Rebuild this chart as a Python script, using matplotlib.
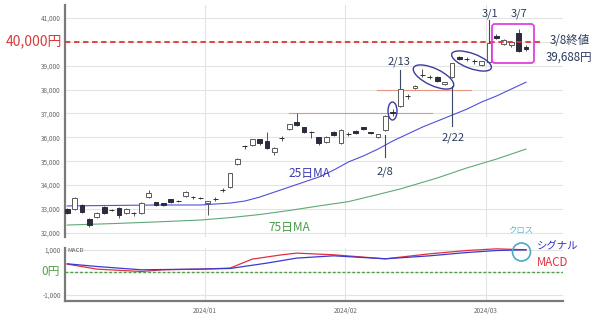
import matplotlib
matplotlib.use("Agg")
import matplotlib.pyplot as plt
from matplotlib.patches import Rectangle, Ellipse, FancyBboxPatch, Circle
from matplotlib.transforms import IdentityTransform

plt.rcParams['font.family'] = ['Noto Sans CJK JP', 'DejaVu Sans']

# ---------------- data ----------------
dates = ["12/05", "12/06", "12/07", "12/08", "12/11", "12/12", "12/13", "12/14", "12/15", "12/18",
         "12/19", "12/20", "12/21", "12/22", "12/25", "12/26", "12/27", "12/28", "12/29",
         "01/04", "01/05", "01/09", "01/10", "01/11", "01/12", "01/15", "01/16", "01/17", "01/18",
         "01/19", "01/22", "01/23", "01/24", "01/25", "01/26", "01/29", "01/30", "01/31",
         "02/01", "02/02", "02/05", "02/06", "02/07", "02/08", "02/09", "02/13", "02/14", "02/15",
         "02/16", "02/19", "02/20", "02/21", "02/22", "02/26", "02/27", "02/28", "02/29",
         "03/01", "03/04", "03/05", "03/06", "03/07", "03/08"]
opens = [33000, 33000, 33170, 32580, 32670, 33080, 32960, 33040, 32830, 32840,
         32830, 33500, 33290, 33250, 33420, 33350, 33540, 33510, 33470,
         33250, 33420, 33800, 33920, 34880, 35640, 35680, 35930, 35850, 35380,
         35980, 36350, 36640, 36430, 36230, 36010, 35800, 36220, 35760,
         36140, 36260, 36430, 36220, 36010, 36310, 37050, 37310, 37730, 38060,
         38610, 38530, 38520, 38230, 38520, 39360, 39280, 39200, 39030,
         39150, 40240, 39900, 39860, 40360, 39800]
highs = [33050, 33500, 33200, 32620, 32860, 33120, 33000, 33080, 33050, 32860,
         33280, 33790, 33310, 33270, 33440, 33380, 33740, 33560, 33510,
         33350, 33500, 33880, 34520, 35120, 35700, 35950, 35950, 36220, 35580,
         36060, 36580, 37020, 36450, 36280, 36030, 36040, 36250, 36330,
         36220, 36290, 36450, 36240, 36160, 36920, 37200, 38040, 37800, 38180,
         38860, 38600, 38550, 38330, 39130, 39390, 39370, 39260, 39210,
         39990, 40310, 40110, 40020, 40530, 39860]
lows = [32780, 32960, 32830, 32250, 32620, 32800, 32900, 32620, 32800, 32700,
        32800, 33470, 33130, 33140, 33270, 33300, 33520, 33440, 33420,
        32750, 33350, 33720, 33900, 34850, 35500, 35650, 35700, 35520, 35280,
        35850, 36300, 36480, 36180, 35970, 35700, 35780, 36060, 35740,
        36060, 36150, 36320, 36150, 35990, 36280, 36900, 37280, 37600, 38040,
        38520, 38450, 38330, 38200, 38500, 39250, 39200, 39080, 39000,
        39120, 40100, 39880, 39800, 39580, 39600]
closes = [32830, 33460, 32870, 32330, 32830, 32830, 32940, 32750, 33000, 32820,
          33250, 33670, 33170, 33170, 33290, 33340, 33710, 33500, 33460,
          33330, 33410, 33790, 34500, 35090, 35630, 35930, 35760, 35550, 35550,
          35970, 36560, 36510, 36220, 36220, 35760, 36010, 36100, 36310,
          36130, 36180, 36350, 36180, 36140, 36890, 37040, 38020, 37720, 38150,
          38600, 38520, 38360, 38310, 39100, 39280, 39270, 39190, 39190,
          39950, 40150, 40070, 39990, 39610, 39690]

# moving averages read at selected trading-day positions
ma25_pos = [0, 6, 12, 18, 22, 24, 26, 28, 30, 32, 34, 36, 38, 40, 42, 44, 46, 48,
            50, 52, 54, 56, 58, 60, 62]
ma25_val = [33130, 33150, 33170, 33170, 33250, 33335, 33500, 33710, 33920, 34130,
            34340, 34630, 34970, 35220, 35510, 35850, 36140, 36430, 36680, 36930,
            37180, 37480, 37730, 38020, 38310]
ma75_pos = [0, 6, 12, 18, 22, 26, 30, 34, 38, 42, 45, 50, 54, 58, 62]
ma75_val = [32330, 32390, 32460, 32540, 32640, 32770, 32940, 33130, 33310, 33610,
            33840, 34300, 34720, 35090, 35510]

# MACD panel
macd_pos = [0, 4, 10, 13, 18, 22, 25, 29, 31, 36, 43, 49, 54, 58, 62]
macd_val = [373, 150, 45, 120, 150, 195, 595, 787, 862, 787, 609, 831, 978, 1053, 1009]
sig_pos = [0, 4, 10, 18, 22, 27, 31, 36, 43, 49, 54, 58, 62]
sig_val = [387, 267, 120, 150, 178, 418, 640, 742, 609, 742, 889, 978, 1009]

month_first_idx = [19, 38, 57]
month_labels = ["2024/01", "2024/02", "2024/03"]

# ---------------- figure ----------------
W, H = 600, 314
fig = plt.figure(figsize=(W / 100, H / 100), dpi=100)
fig.patch.set_facecolor("white")

def fx(x):
    return x / W

def fy(y):
    return 1 - y / H

ax = fig.add_axes([fx(65), fy(237), fx(563) - fx(65), fy(5) - fy(237)])
axm = fig.add_axes([fx(65), fy(301), fx(563) - fx(65), fy(248) - fy(301)])

xmin, xmax = -0.3, 67.0
ax.set_xlim(xmin, xmax)
axm.set_xlim(xmin, xmax)
ax.set_ylim(31830, 41540)
axm.set_ylim(-1270, 1090)

grid_c = "#e3e3e3"
spine_c = "#7a7a7a"
tick_c = "#666666"

for a in (ax, axm):
    for s in ("top", "right"):
        a.spines[s].set_visible(False)
    a.spines["left"].set_color(spine_c)
    a.spines["left"].set_linewidth(1.6)
    a.tick_params(length=0, labelsize=4.6, labelcolor=tick_c, pad=3)
    a.set_axisbelow(True)
ax.spines["bottom"].set_visible(False)
axm.spines["bottom"].set_color(spine_c)
axm.spines["bottom"].set_linewidth(1.6)

yt = [32000, 33000, 34000, 35000, 36000, 37000, 38000, 39000, 40000, 41000]
ax.set_yticks(yt)
ax.set_yticklabels([("" if v == 40000 else f"{v:,}") for v in yt])
ax.yaxis.grid(True, color=grid_c, lw=0.8)

tick_pos = [i - 0.4 for i in month_first_idx]
ax.set_xticks(tick_pos)
ax.set_xticklabels([])
ax.xaxis.grid(True, color=grid_c, lw=0.8)

axm.set_yticks([-1000, 0, 1000])
axm.set_yticklabels(["-1,000", "", "1,000"])
axm.yaxis.grid(True, color=grid_c, lw=0.8)
axm.set_xticks(tick_pos)
axm.set_xticklabels(month_labels)
axm.xaxis.grid(True, color=grid_c, lw=0.8)
axm.tick_params(axis="x", pad=4)

# ---------------- candles ----------------
up_edge = "#5a5a5a"
dn_fill = "#2c2c3c"
bw = 0.66
for i, (o, h, l, c) in enumerate(zip(opens, highs, lows, closes)):
    ax.vlines(i, l, h, color="#555555", lw=0.7, zorder=3)
    lo, hi = min(o, c), max(o, c)
    hgt = max(hi - lo, 12)
    if c >= o:
        rect = Rectangle((i - bw / 2, lo), bw, hgt, facecolor="white",
                         edgecolor=up_edge, lw=0.7, zorder=4)
    else:
        rect = Rectangle((i - bw / 2, lo), bw, hgt, facecolor=dn_fill,
                         edgecolor=dn_fill, lw=0.7, zorder=4)
    ax.add_patch(rect)

# moving averages
ax.plot(ma25_pos, ma25_val, color="#5050d8", lw=0.8, zorder=2)
ax.plot(ma75_pos, ma75_val, color="#5fa878", lw=0.8, zorder=2)

# horizontal reference lines
ax.axhline(40000, xmin=0, xmax=(543 - 65) / (563 - 65), color="#e03535",
           lw=1.3, ls=(0, (3, 2)), zorder=5)
ax.plot([30, 49.3], [37000, 37000], color="#e89585", lw=0.8, zorder=2)
ax.plot([41.8, 54.5], [38000, 38000], color="#e89585", lw=0.8, zorder=2)

# annotation pointer lines
ann_c = "#3a4868"
ax.plot([43, 43], [36100, 35170], color=ann_c, lw=0.8, zorder=6)
ax.plot([45, 45], [38820, 38060], color=ann_c, lw=0.8, zorder=6)
ax.plot([52, 52], [38150, 36470], color=ann_c, lw=0.8, zorder=6)
ax.plot([57, 57], [40900, 39990], color=ann_c, lw=0.8, zorder=6)

# MACD lines
axm.axhline(0, color="#4aa040", lw=1.0, ls=(0, (2, 1.5)))
axm.plot(macd_pos, macd_val, color="#e03040", lw=0.9, zorder=3)
axm.plot(sig_pos, sig_val, color="#3a3ad0", lw=0.9, zorder=4)

# ---------------- pixel-space decorations ----------------
def disp(x, y):
    return (x, H - y)

idt = IdentityTransform()
ell_c = "#3c3ca0"
for (cx, cy, w, h, ang) in [(392.5, 111, 9, 18, 0), (433.5, 77, 44, 17, -25),
                            (471.5, 61, 42, 15, -20)]:
    e = Ellipse(disp(cx, cy), w, h, angle=ang, fill=False, edgecolor=ell_c,
                lw=1.0, transform=idt, zorder=7, clip_on=False)
    fig.patches.append(e)

box = FancyBboxPatch(disp(494, 61), 38, 35, boxstyle="round,pad=2,rounding_size=3",
                     fill=False, edgecolor="#e040e0", lw=1.3, transform=idt,
                     clip_on=False, zorder=7)
fig.patches.append(box)

circ = Circle(disp(521.5, 252), 9, fill=False, edgecolor="#50a8c8", lw=1.2,
              transform=idt, clip_on=False, zorder=7)
fig.patches.append(circ)

def ftxt(x, y, s, **kw):
    kw.setdefault("ha", "center")
    kw.setdefault("va", "center")
    fig.text(fx(x), fy(y), s, **kw)

lab_c = "#2c3a5c"
ftxt(62, 41, "40,000円", ha="right", fontsize=10, color="#d83a3a")
ftxt(570, 41, "3/8終値", fontsize=8.3, color=lab_c)
ftxt(569, 57, "39,688円", fontsize=8.3, color=lab_c)
ftxt(490, 14, "3/1", fontsize=8, color=lab_c)
ftxt(519, 14, "3/7", fontsize=8, color=lab_c)
ftxt(399, 62, "2/13", fontsize=8, color=lab_c)
ftxt(453, 138, "2/22", fontsize=8, color=lab_c)
ftxt(385, 172, "2/8", fontsize=8, color=lab_c)
ftxt(309, 173, "25日MA", fontsize=8.5, color="#3a3ab0")
ftxt(289, 227, "75日MA", fontsize=8.5, color="#4a9a4a")
ftxt(60, 272, "0円", ha="right", fontsize=8.5, color="#5aa050")
ftxt(67, 250, "MACD", ha="left", fontsize=4.3, color="#555555")
ftxt(521, 230, "クロス", fontsize=6, color="#60b8d8")
ftxt(537, 246, "シグナル", ha="left", fontsize=7.5, color="#3030c0")
ftxt(537, 262, "MACD", ha="left", fontsize=8.3, color="#e03040")

fig.savefig("out.png", dpi=100, facecolor="white")
